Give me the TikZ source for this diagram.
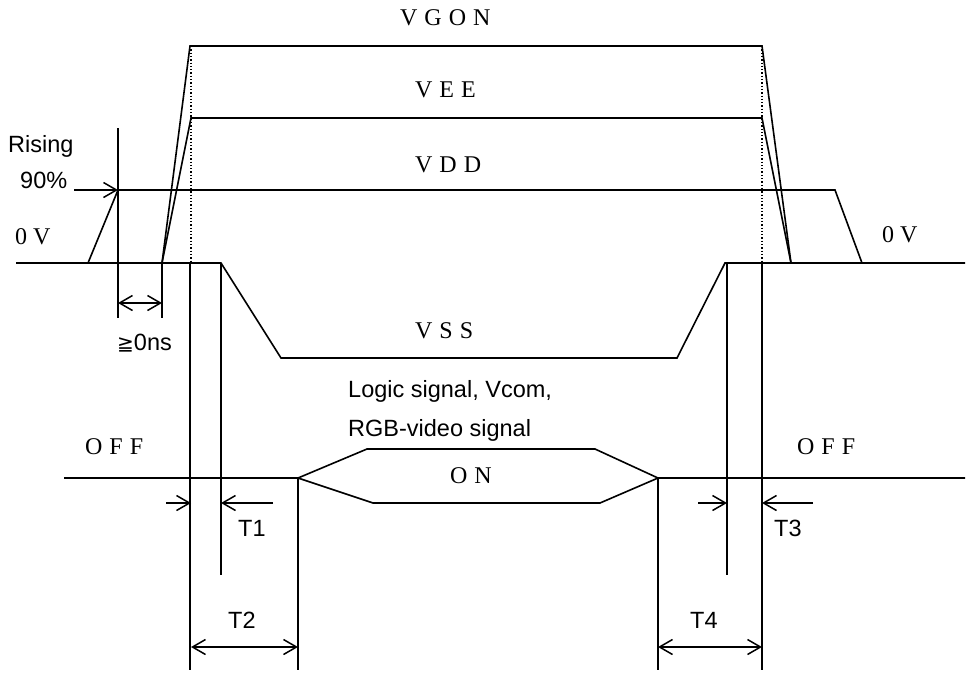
\documentclass[tikz,border=0pt]{standalone}
\usepackage{fontspec}
\setmainfont{Liberation Sans}
\newfontfamily\serifsp[LetterSpace=29]{Liberation Serif}
\newfontfamily\serifn{Liberation Serif}
\newfontfamily\dejavu{DejaVu Sans}
\usetikzlibrary{arrows.meta}
\tikzset{
  sig/.style={line width=1.6pt, line join=miter},
  guide/.style={line width=1.5pt},
  dotguide/.style={line width=1.3pt, dotted},
  dimone/.style={line width=1.5pt, -{Straight Barb[length=13pt,width=15pt]}},
  dimtwo/.style={line width=1.5pt, {Straight Barb[length=13pt,width=15pt]}-{Straight Barb[length=13pt,width=15pt]}},
  lbl/.style={inner sep=0pt, anchor=base west, font=\fontsize{23.5}{26}\selectfont},
  slbl/.style={inner sep=0pt, anchor=base west, font=\serifsp\fontsize{24}{26}\selectfont},
  nlbl/.style={inner sep=0pt, anchor=base west, font=\serifn\fontsize{24}{26}\selectfont}
}
\begin{document}
\begin{tikzpicture}[x=1pt,y=-1pt]
\useasboundingbox (0,0) rectangle (966,673);
% key coordinates
\coordinate (gs) at (162,263);
\coordinate (g1) at (190,46);
\coordinate (g2) at (762,46);
\coordinate (ge) at (791,263);
\coordinate (e1) at (191,118);
\coordinate (e2) at (762,118);
\coordinate (ds) at (88,263);
\coordinate (d1) at (118,190);
\coordinate (d2) at (835,190);
\coordinate (de) at (862,263);
\coordinate (p90) at (74,190);
\coordinate (b0) at (16,263);
\coordinate (b1) at (221,263);
\coordinate (b2) at (281,358);
\coordinate (b3) at (677,358);
\coordinate (b4) at (725,263);
\coordinate (b5) at (965,263);
\coordinate (o0) at (64,478);
\coordinate (o1) at (298,478);
\coordinate (o2) at (367,449);
\coordinate (o3) at (595,449);
\coordinate (o4) at (658,478);
\coordinate (o5) at (965,478);
\coordinate (u1) at (373,503);
\coordinate (u2) at (600,503);

% signals
\draw[sig] (gs) -- (g1) -- (g2) -- (ge);
\draw[sig] (gs) -- (e1) -- (e2) -- (ge);
\draw[sig] (ds) -- (d1) -- (d2) -- (de);
\draw[dimone] (p90) -- (d1);
\draw[sig] (b0) -- (b1) -- (b2) -- (b3) -- (b4) -- (b5);
\draw[sig] (o0) -- (o1) -- (o2) -- (o3) -- (o4) -- (o5);
\draw[sig] (o1) -- (u1) -- (u2) -- (o4);

% dotted guides
\draw[dotguide] (191,46) coordinate (dl1) -- (191,263) coordinate (dl2);
\draw[dotguide] (762,46) coordinate (dr1) -- (762,263) coordinate (dr2);

% vertical guides
\draw[guide] (118,128) coordinate (v1a) -- (118,318) coordinate (v1b);
\draw[guide] (162,263) coordinate (v2a) -- (162,318) coordinate (v2b);
\draw[guide] (190,263) coordinate (v3a) -- (190,670) coordinate (v3b);
\draw[guide] (221,263) coordinate (v4a) -- (221,575) coordinate (v4b);
\draw[guide] (o1) -- (298,670) coordinate (v5b);
\draw[guide] (o4) -- (658,670) coordinate (v6b);
\draw[guide] (727,263) coordinate (v7a) -- (727,575) coordinate (v7b);
\draw[guide] (762,263) coordinate (v8a) -- (762,670) coordinate (v8b);

% dimension arrows
\coordinate (a0l) at (118,303); \coordinate (a0r) at (162,303);
\draw[dimtwo] (a0l) -- (a0r);
\coordinate (t1a) at (166,503); \coordinate (t1b) at (191,503);
\coordinate (t1c) at (273,503); \coordinate (t1d) at (221,503);
\draw[dimone] (t1a) -- (t1b);
\draw[dimone] (t1c) -- (t1d);
\coordinate (t3a) at (698,503); \coordinate (t3b) at (727,503);
\coordinate (t3c) at (813,503); \coordinate (t3d) at (762,503);
\draw[dimone] (t3a) -- (t3b);
\draw[dimone] (t3c) -- (t3d);
\coordinate (t2a) at (191,647); \coordinate (t2b) at (298,647);
\draw[dimtwo] (t2a) -- (t2b);
\coordinate (t4a) at (658,647); \coordinate (t4b) at (762,647);
\draw[dimtwo] (t4a) -- (t4b);

% sans labels
\node[lbl] (rising) at (8,152) {Rising};
\node[lbl] (p90l) at (20,188) {90\%};
\node[lbl] (logic) at (348,397) {Logic signal, Vcom,};
\node[lbl] (rgb) at (348,436) {RGB-video signal};
\node[lbl] (zerons) at (117,350) {{\dejavu\fontsize{20}{24}\selectfont ≧}0ns};
\node[lbl] (T1) at (238,536) {T1};
\node[lbl] (T2) at (228,628) {T2};
\node[lbl] (T3) at (774,536) {T3};
\node[lbl] (T4) at (690,628) {T4};

% serif labels
\node[slbl] (vgon) at (400,25) {VGON};
\node[slbl] (vee) at (415,97) {VEE};
\node[slbl] (vdd) at (415,172) {VDD};
\node[slbl] (vss) at (415,338) {VSS};
\node[nlbl] (zvl) at (15,244) {0 V};
\node[nlbl] (zvr) at (882,242) {0 V};
\node[slbl] (offl) at (85,454) {OFF};
\node[slbl] (offr) at (797,454) {OFF};
\node[slbl] (on) at (450,483) {ON};
\end{tikzpicture}
\end{document}
